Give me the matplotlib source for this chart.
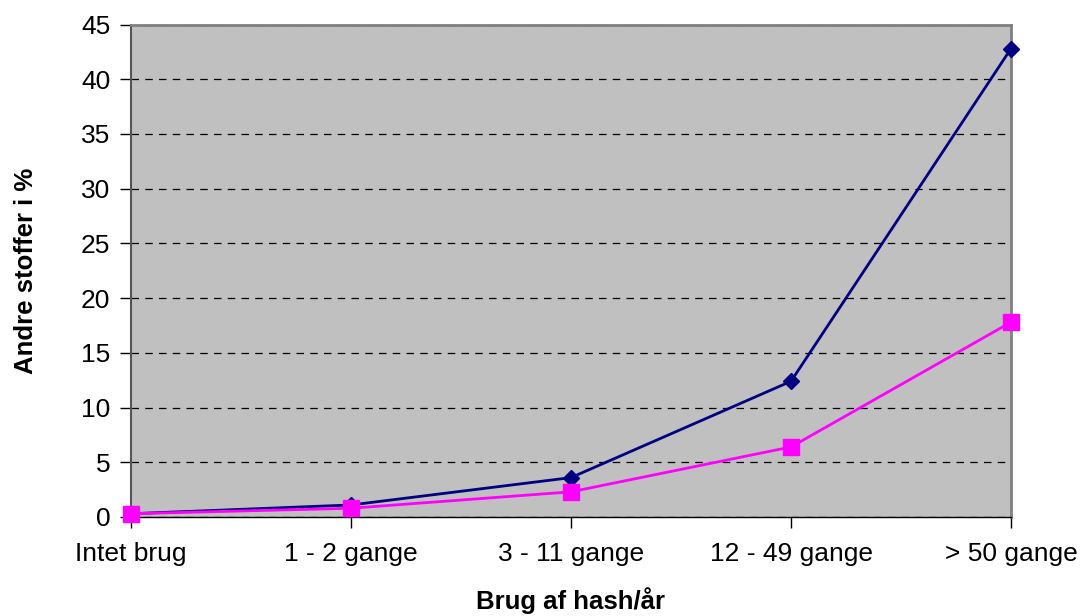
import matplotlib
matplotlib.use("Agg")
import matplotlib.pyplot as plt

categories = ["Intet brug", "1 - 2 gange", "3 - 11 gange", "12 - 49 gange", "> 50 gange"]
series_a = [0.3, 1.1, 3.6, 12.4, 42.8]
series_b = [0.3, 0.8, 2.3, 6.4, 17.8]
yticks = [0, 5, 10, 15, 20, 25, 30, 35, 40, 45]

plt.rcParams['font.family'] = ['Liberation Sans', 'DejaVu Sans']

fig = plt.figure(figsize=(10.8, 6.16), dpi=100)
ax = fig.add_axes([131/1080, 1 - 517/616, 880/1080, 492.5/616])
ax.set_facecolor('#C0C0C0')

x = list(range(len(categories)))
ax.plot(x, series_a, color='#000080', lw=2, marker='D', ms=8, mfc='#000080', mec='#000080', zorder=3, clip_on=False)
ax.plot(x, series_b, color='#FF00FF', lw=2, marker='s', ms=11, mfc='#FF00FF', mec='#FF00FF', zorder=4, clip_on=False)

ax.set_xlim(0, 4)
ax.set_ylim(0, 45)
ax.set_yticks(yticks)
ax.set_xticks(x)
ax.set_xticklabels(categories)
ax.yaxis.grid(True, color='black', linestyle=(0, (6, 5)), lw=0.9)
ax.set_axisbelow(True)

for s in ['top', 'right']:
    ax.spines[s].set_color('#808080')
    ax.spines[s].set_linewidth(2)
ax.spines['left'].set_color('#555555')
ax.spines['left'].set_linewidth(1.5)
ax.spines['bottom'].set_color('black')
ax.spines['bottom'].set_linewidth(1)

ax.tick_params(axis='both', direction='out', length=8, width=1, color='black', labelsize=19)
ax.tick_params(axis='x', pad=10)
ax.tick_params(axis='y', pad=7)

ax.set_xlabel('Brug af hash/år', fontsize=18.5, fontweight='bold', labelpad=15)
ax.set_ylabel('Andre stoffer i %', fontsize=18.5, fontweight='bold', labelpad=31)

fig.savefig('out.png', dpi=100, facecolor='white')
